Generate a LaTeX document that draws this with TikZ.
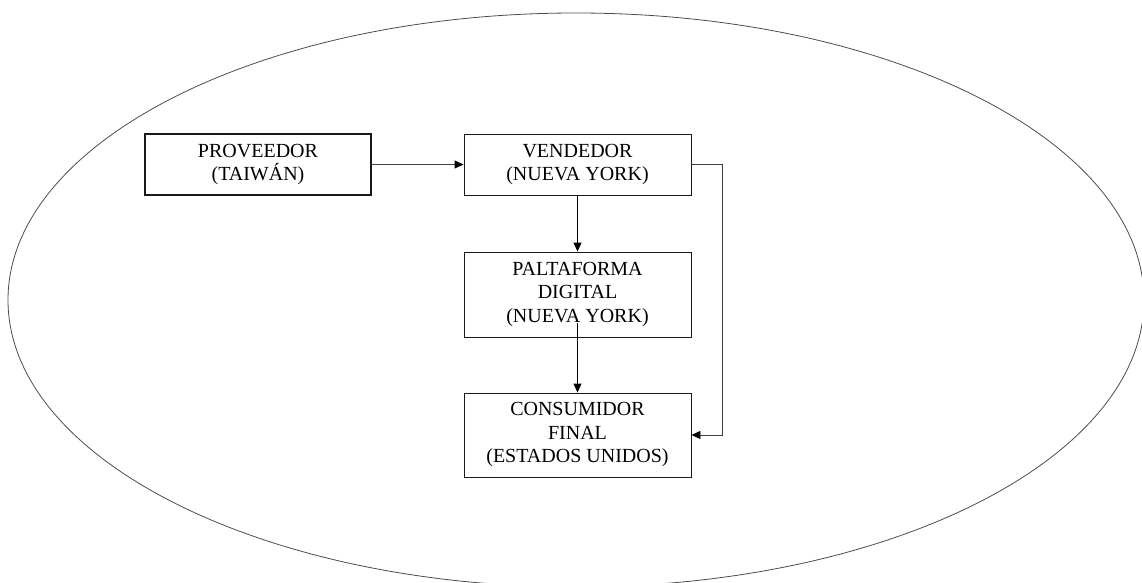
\documentclass[tikz,border=0pt]{standalone}
\usepackage{fontspec}
\setmainfont{Liberation Serif}
\usetikzlibrary{arrows.meta}
\begin{document}
\begin{tikzpicture}[x=1pt,y=-1pt,
  boxstyle/.style={draw=black!90, line width=0.9pt, inner sep=0pt, align=center,
    minimum width=227pt, font=\fontsize{20}{23.5}\selectfont},
  arr/.style={draw=black!75, line width=0.9pt, -{Triangle[length=9pt,width=8pt,fill=black,color=black]}}]
\useasboundingbox (0,0) rectangle (1142,583);
\begin{scope}
\clip (0,0) rectangle (1142,583);
\draw[black!70, line width=0.8pt] (576,300) ellipse [x radius=568, y radius=287];
\end{scope}
\node[boxstyle, line width=1.8pt, minimum width=226pt, minimum height=61pt] (prov) at (258,164.5) {PROVEEDOR\\(TAIWÁN)};
\node[boxstyle, minimum height=61pt] (vend) at (577.5,164.5) {VENDEDOR\\(NUEVA YORK)};
\node[boxstyle, minimum height=85pt] (plat) at (577.5,294.5) {PALTAFORMA\\DIGITAL\\(NUEVA YORK)};
\node[boxstyle, minimum height=84pt] (cons) at (577.5,435) {CONSUMIDOR\\FINAL\\(ESTADOS UNIDOS)};
\coordinate (pst) at (577.5,323);
\coordinate (rt) at (722,300);
\draw[arr] (prov.east) -- (vend.west);
\draw[arr, draw=black] (vend.south) -- (plat.north);
\draw[arr, draw=black] (pst) -- (cons.north);
\draw[arr] (vend.east) -| (rt) |- (cons.east);
\end{tikzpicture}
\end{document}
